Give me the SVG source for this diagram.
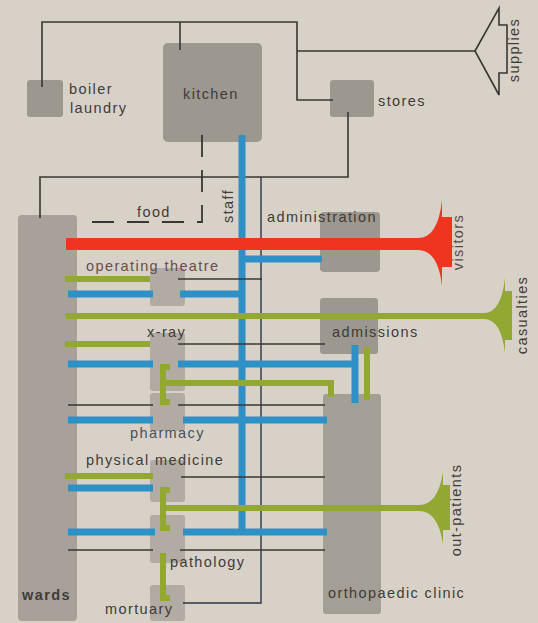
<svg xmlns="http://www.w3.org/2000/svg" width="538" height="623" viewBox="0 0 538 623">
<style>
  text { font-family: "Liberation Sans", Arial, sans-serif; font-size: 14.5px; letter-spacing: 1.4px; fill: #403c38; }
  .box { fill: #9c978f; }
  .lbox { fill: #aba59d; opacity: 0.85; }
  .thin { fill: none; stroke: #3a3632; stroke-width: 1.6; }
  .navy { fill: none; stroke: #2f3648; stroke-width: 1.4; }
  .blue { fill: none; stroke: #2f90c6; stroke-width: 7; }
  .green { fill: none; stroke: #93a833; stroke-width: 6; }
  .gfill { fill: #93a833; }
  .dash { fill: none; stroke: #3a3632; stroke-width: 1.8; stroke-dasharray: 22 13; }
</style>
<rect width="538" height="623" fill="#d8d1c7"/>

<g id="wards"><rect class="box" x="18" y="215" width="59" height="406" rx="4" fill="#a7a199" style="fill:#a7a199"/><text x="22" y="600" style="font-weight:bold">wards</text></g>
<g id="kitchen"><rect class="box" x="163" y="43" width="99" height="99" rx="5"/><text x="183" y="99">kitchen</text></g>
<g id="boiler-laundry"><rect class="box" x="27" y="80" width="36" height="37" rx="3"/><text x="69" y="94">boiler</text><text x="70" y="113">laundry</text></g>
<g id="stores"><rect class="box" x="330" y="80" width="44" height="37" rx="3"/><text x="378" y="106">stores</text></g>
<g id="administration"><rect class="box" x="320" y="212" width="60" height="60" rx="4"/></g>
<g id="admissions"><rect class="box" x="320" y="298" width="58" height="56" rx="3"/></g>
<g id="orthopaedic-clinic"><rect class="box" x="323" y="394" width="58" height="220" rx="3" style="fill:#a39e96"/></g>
<g id="departments">
  <rect class="lbox" x="150" y="268" width="35" height="38" rx="3"/>
  <rect class="lbox" x="150" y="333" width="35" height="58" rx="3"/>
  <rect class="lbox" x="150" y="393" width="35" height="38" rx="3"/>
  <rect class="lbox" x="150" y="460" width="35" height="42" rx="3"/>
  <rect class="lbox" x="150" y="515" width="35" height="48" rx="3"/>
  <rect class="lbox" x="150" y="585" width="35" height="36" rx="3"/>
</g>

<g id="connectors">
  <!-- service lines -->
  <path class="thin" d="M42 87 V22 H297 V100 H333"/>
  <path class="thin" d="M180 22 V50"/>
  <path class="thin" d="M297 51 H475"/>
  <polygon class="thin" points="475,51 499,8 499,25 507,25 507,73 499,73 499,95"/>
  <path class="thin" d="M348 112 V177 H40 V218"/>
  <path class="dash" d="M202 135 V222 H86"/>
  <path class="navy" d="M261 177 V603 H183"/>

  <!-- staff (blue) -->
  <path class="blue" d="M242 135 V532"/>
  <path class="blue" d="M242 259 H322"/>
  <path class="blue" d="M68 294 H153 M180 294 H242"/>
  <path class="blue" d="M68 364 H153 M178 364 H355"/>
  <path class="blue" d="M355 345 V403"/>
  <path class="blue" d="M68 420 H153 M183 420 H327"/>
  <path class="blue" d="M68 488 H153"/>
  <path class="blue" d="M68 532 H155 M183 532 H327"/>

  <!-- patients (green) -->
  <path class="green" d="M68 276 V279 H150"/>
  <path class="green" d="M68 341 V344 H150"/>
  <path class="green" d="M68 473 V476 H153"/>
  <path class="green" d="M170 367 H163 V402 H170"/>
  <path class="green" d="M163 383 H331 V397"/>
  <path class="green" d="M367 347 V400"/>
  <path class="green" d="M170 490 H163 V528 H170"/>
  <path class="green" d="M163 553 V598 H170"/>

  <!-- thin links -->
  <path class="thin" d="M178 279 H262"/>
  <path class="thin" d="M178 344 H325"/>
  <path class="thin" d="M68 405 H153 M178 405 H325"/>
  <path class="thin" d="M181 477 H325"/>
  <path class="thin" d="M68 550 H153 M180 550 H325"/>

  <!-- visitors -->
  <path fill="#ef3420" d="M66 238 H418 Q438 238 442 200 V217 H452 V267 H442 V286 Q438 250 418 250 H66 Z"/>
  <!-- casualties -->
  <path class="gfill" d="M66 313 H484 Q501 313 505 278 V291 H512 V340 H505 V353 Q501 319 484 319 H66 Z"/>
  <path class="green" d="M68 313 V316"/>
  <!-- out-patients -->
  <path class="gfill" d="M166 505 H419 Q438 505 443 472 V485 H450 V530 H443 V544 Q438 511 419 511 H166 Z"/>
</g>

<g id="labels">
  <text x="137" y="217">food</text>
  <text transform="translate(233,223) rotate(-90)">staff</text>
  <text x="267" y="222">administration</text>
  <text x="86" y="271" style="fill:#6a4e4a">operating theatre</text>
  <text x="147" y="337">x-ray</text>
  <text x="332" y="337">admissions</text>
  <text x="130" y="438" style="fill:#45535c">pharmacy</text>
  <text x="86" y="465">physical medicine</text>
  <text x="170" y="567">pathology</text>
  <text x="105" y="614">mortuary</text>
  <text x="328" y="598">orthopaedic clinic</text>
  <text text-anchor="middle" transform="translate(519,50) rotate(-90)">supplies</text>
  <text text-anchor="middle" transform="translate(463,242) rotate(-90)" style="fill:#5e4a48">visitors</text>
  <text text-anchor="middle" transform="translate(527,315) rotate(-90)">casualties</text>
  <text text-anchor="middle" transform="translate(461,510) rotate(-90)">out-patients</text>
</g>
</svg>
